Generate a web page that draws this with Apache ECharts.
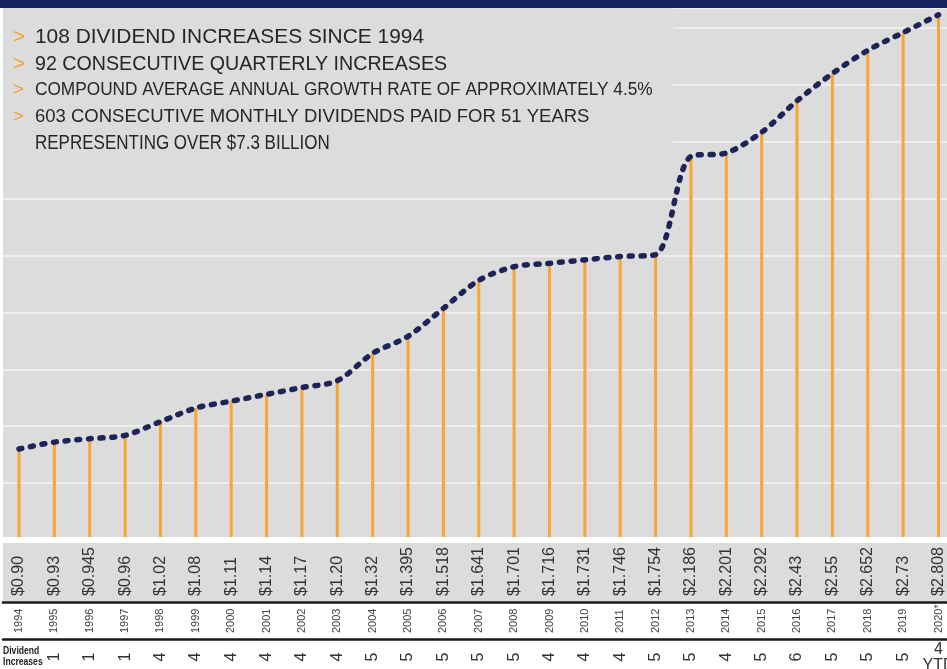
<!DOCTYPE html>
<html>
<head>
<meta charset="utf-8">
<script src="https://cdn.jsdelivr.net/npm/echarts@6/dist/echarts.min.js"></script>
<style>
  html, body { margin: 0; padding: 0; background: #fff; }
  #main { width: 947px; height: 669px; }
</style>
</head>
<body>
<div id="main"></div>
<script>
// data
const years = ['1994', '1995', '1996', '1997', '1998', '1999', '2000', '2001', '2002', '2003', '2004', '2005', '2006',
  '2007', '2008', '2009', '2010', '2011', '2012', '2013', '2014', '2015', '2016', '2017', '2018', '2019', '2020*']
const dividends = [0.90, 0.93, 0.945, 0.96, 1.02, 1.08, 1.11, 1.14, 1.17, 1.20, 1.32, 1.395, 1.518,
  1.641, 1.701, 1.716, 1.731, 1.746, 1.754, 2.186, 2.201, 2.292, 2.43, 2.55, 2.652, 2.73, 2.808]
const priceLabels = ['$0.90', '$0.93', '$0.945', '$0.96', '$1.02', '$1.08', '$1.11', '$1.14', '$1.17', '$1.20', '$1.32',
  '$1.395', '$1.518', '$1.641', '$1.701', '$1.716', '$1.731', '$1.746', '$1.754', '$2.186', '$2.201', '$2.292',
  '$2.43', '$2.55', '$2.652', '$2.73', '$2.808']
const increases = ['', '1', '1', '1', '4', '4', '4', '4', '4', '4', '5', '5', '5', '5', '5', '4', '4', '4', '5', '5',
  '4', '5', '6', '5', '5', '5', '4']
const bullets = [
  '108 DIVIDEND INCREASES SINCE 1994',
  '92 CONSECUTIVE QUARTERLY INCREASES',
  'COMPOUND AVERAGE ANNUAL GROWTH RATE OF APPROXIMATELY 4.5%',
  '603 CONSECUTIVE MONTHLY DIVIDENDS PAID FOR 51 YEARS'
]
const bulletNote = 'REPRESENTING OVER $7.3 BILLION'

const yMin = 0.5
const yMax = 2.838
const yStep = 0.25
const lastIdx = years.length - 1
const font = '"Liberation Sans", Arial, sans-serif'

const chartDom = document.getElementById('main')
const myChart = echarts.init(chartDom, null, { renderer: 'canvas' })

// bullet text block (the original face is narrower than Arial, so squeeze a bit)
const bulletTop = [37, 64, 90, 117]
const bulletSize = [21, 21, 18.5, 18.5]
const bulletScale = [0.995, 0.936, 0.932, 1]
const textEls = []
bullets.forEach((t, i) => {
  textEls.push({
    type: 'text', z: 10, x: 13, y: bulletTop[i],
    style: { text: '>', fill: '#f5a32a', font: bulletSize[i] + 'px ' + font, verticalAlign: 'middle' }
  })
  textEls.push({
    type: 'text', z: 10, x: 35, y: bulletTop[i], scaleX: bulletScale[i],
    style: { text: t, fill: '#262626', font: bulletSize[i] + 'px ' + font, verticalAlign: 'middle' }
  })
})
textEls.push({
  type: 'text', z: 10, x: 35, y: 143, scaleX: 0.85,
  style: { text: bulletNote, fill: '#262626', font: '20px ' + font, verticalAlign: 'middle' }
})

function labelAxis(offset, extra) {
  return Object.assign({
    type: 'category',
    gridIndex: 1,
    position: 'bottom',
    data: years,
    boundaryGap: false,
    offset: offset,
    z: 10,
    axisLine: { show: false, onZero: false },
    axisTick: { show: false },
    splitLine: { show: false }
  }, extra)
}

function ruleAxis(offset) {
  return {
    type: 'value',
    gridIndex: 0,
    position: 'bottom',
    min: 0,
    max: 1,
    offset: offset,
    z: 10,
    axisLine: { show: true, onZero: false, lineStyle: { color: '#1a1a1a', width: 2.5 } },
    axisTick: { show: false },
    axisLabel: { show: false },
    splitLine: { show: false }
  }
}

let option = {
  animation: false,
  grid: [
    // full width panel, only for background and grid lines
    { left: 3, right: 0, top: 8, bottom: 129, outerBoundsMode: 'none', show: true, backgroundColor: '#dcdcdc', borderWidth: 0 },
    // data panel
    { left: 19, right: 8.5, top: 8, bottom: 129, outerBoundsMode: 'none' }
  ],
  graphic: [
    { type: 'rect', z: 3, shape: { x: 3, y: 8, width: 670, height: 154 }, style: { fill: '#dcdcdc' } },
    { type: 'rect', z: 3, shape: { x: 0, y: 537, width: 947, height: 6 }, style: { fill: '#ffffff' } },
    { type: 'rect', z: 1, shape: { x: 3, y: 543, width: 944, height: 58 }, style: { fill: '#dcdcdc' } },
    { type: 'rect', z: 10, shape: { x: 0, y: 0, width: 947, height: 8 }, style: { fill: '#16235f' } },
    {
      type: 'text', z: 10, x: 3, y: 657, scaleX: 0.86,
      style: { text: 'Dividend\nIncreases', fill: '#222', font: 'bold 10px ' + font, verticalAlign: 'middle', lineHeight: 11 }
    }
  ].concat(textEls),
  xAxis: [
    { type: 'value', gridIndex: 0, min: 0, max: 1, show: false },
    labelAxis(0, { axisLabel: { show: false } }),
    labelAxis(48, {
      axisLabel: {
        interval: 0, rotate: 90, align: 'left', margin: 8,
        fontSize: 16, fontFamily: font, color: '#333',
        formatter: (v, i) => priceLabels[i]
      }
    }),
    labelAxis(85, {
      axisLabel: {
        interval: 0, rotate: 90, align: 'left', margin: 8,
        fontSize: 11, fontFamily: font, color: '#444'
      }
    }),
    labelAxis(109, {
      axisLabel: {
        interval: 0, rotate: 90, align: 'center', margin: 8,
        fontSize: 16, fontFamily: font, color: '#333',
        formatter: (v, i) => (i === lastIdx ? '' : increases[i])
      }
    }),
    labelAxis(94, {
      axisLabel: {
        interval: 0, margin: 8, lineHeight: 16,
        fontSize: 16, fontFamily: font, color: '#333',
        formatter: (v, i) => (i === lastIdx ? increases[i] + '\nYTD' : '')
      }
    }),
    ruleAxis(62),
    ruleAxis(99)
  ],
  yAxis: [
    {
      type: 'value',
      gridIndex: 0,
      min: yMin,
      max: yMax,
      interval: yStep,
      axisLine: { show: false },
      axisTick: { show: false },
      axisLabel: { show: false },
      splitLine: { show: true, lineStyle: { color: '#f5f5f5', width: 1.5 } }
    },
    { type: 'value', gridIndex: 1, min: yMin, max: yMax, interval: yStep, show: false, splitLine: { show: false } }
  ],
  series: [
    {
      name: 'bars',
      type: 'bar',
      xAxisIndex: 1,
      yAxisIndex: 1,
      barWidth: 3,
      itemStyle: { color: '#f9a533' },
      data: dividends
    },
    {
      name: 'dividend',
      type: 'line',
      xAxisIndex: 1,
      yAxisIndex: 1,
      smooth: 0.3,
      symbol: 'none',
      lineStyle: { color: '#1e2358', width: 5.5, type: [3, 8.7], cap: 'round' },
      data: dividends
    }
  ]
}

option && myChart.setOption(option)
</script>
</body>
</html>
